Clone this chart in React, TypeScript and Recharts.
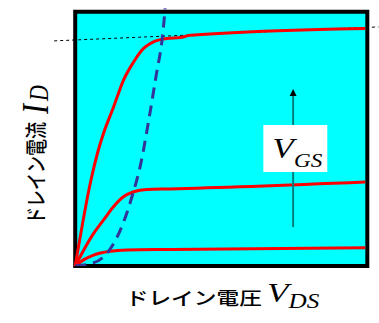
import { LineChart, Line, XAxis, YAxis, ReferenceArea, ReferenceLine } from "recharts"

// V_DS / I_D samples for three gate voltages (low -> high)
const vdsHigh = [0, 0.54, 0.79, 0.97, 1.31, 1.65, 2.0, 2.28, 2.68, 3.14, 3.6, 3.94, 9.93]
const idHigh = [0, 3.38, 4.55, 5.22, 6.24, 7.3, 8.02, 8.48, 8.81, 8.94, 8.98, 9.07, 9.34]

const vdsMid = [0, 0.63, 0.97, 1.31, 1.65, 2.0, 2.45, 3.25, 9.93]
const idMid = [0, 1.28, 1.81, 2.33, 2.72, 2.92, 3.01, 3.03, 3.3]

const vdsLow = [0, 0.3, 0.63, 1.2, 1.77, 3.25, 9.93]
const idLow = [0, 0.25, 0.43, 0.58, 0.63, 0.65, 0.72]

// pinch-off boundary (linear / saturation)
const vdsSat = [0, 0.62, 1.1, 1.54, 1.95, 2.25, 2.52, 2.78, 2.98, 3.08]
const idSat = [0, 0.12, 0.52, 1.4, 2.75, 4.05, 5.75, 7.55, 8.95, 10.13]

// channel-length modulation tangent
const vdsTangent = [-0.72, 10.38]
const idTangent = [8.85, 9.4]

// V_GS arrow and its label box
const arrowV = 7.46
const arrowI = [1.53, 6.96]
const boxV = [6.44, 8.63]
const boxI = [3.7, 5.54]

const toPoints = (v: number[], i: number[]) => v.map((x, k) => ({ v: x, i: i[k] }))

const JP_FONT = "'Noto Sans CJK JP', 'Noto Sans', sans-serif"
const SERIF = "'Liberation Serif', 'Times New Roman', serif"
const STRETCH = 1.26

const ArrowShape = (props: any) => {
  const { x1, y1, y2 } = props
  const tip = Math.min(y1, y2)
  const base = Math.max(y1, y2)
  return (
    <g>
      <line x1={x1} y1={base} x2={x1} y2={tip + 6} stroke="#007f7f" strokeWidth={2} />
      <path d={`M${x1},${tip} L${x1 - 3.5},${tip + 7} L${x1 + 3.5},${tip + 7} Z`} fill="#000" />
    </g>
  )
}

const renderGsLabel = (props: any) => {
  const { x, y, width, height } = props.viewBox
  const cx = x + width / 2 + 2
  const cy = y + height / 2 + 9.5
  return (
    <text transform={`translate(${cx},${cy}) scale(1.22,1)`} textAnchor="middle" fontFamily={SERIF} fontStyle="italic" fill="#000">
      <tspan fontSize={29}>V</tspan>
      <tspan fontSize={19} dy={9}>GS</tspan>
    </text>
  )
}

const renderXLabel = (props: any) => {
  const { x, y, width } = props.viewBox
  const cx = x + width / 2 + 10
  const cy = y + 39
  return (
    <text transform={`translate(${cx},${cy}) scale(${STRETCH},1)`} textAnchor="middle" fill="#000">
      <tspan fontFamily={JP_FONT} fontWeight={500} fontSize={18}>ドレイン電圧 </tspan>
      <tspan fontFamily={SERIF} fontStyle="italic" fontSize={28} dy={-3}>V</tspan>
      <tspan fontFamily={SERIF} fontStyle="italic" fontSize={20} dy={6}>DS</tspan>
    </text>
  )
}

// rotated label, anchored at its lower end
const renderYLabel = (props: any) => {
  const { y, height } = props.viewBox
  const bottom = y + height - 42
  return (
    <text transform={`translate(44,${bottom}) scale(${STRETCH},1) rotate(-90)`} textAnchor="start" fill="#000">
      <tspan fontFamily={JP_FONT} fontWeight={500} fontSize={17}>ドレイン電流</tspan>
      <tspan fontFamily={SERIF} fontStyle="italic" fontSize={30} dx={8} dy={3}>I</tspan>
      <tspan fontFamily={SERIF} fontStyle="italic" fontSize={22} dx={3} dy={0}>D</tspan>
    </text>
  )
}

export default function App() {
  return (
    <div style={{ position: "absolute", left: 0, top: 0, width: 379, height: 323, background: "#fff" }}>
      <LineChart width={379} height={323} margin={{ top: 4, right: 0, bottom: 0, left: 0 }}>
        <XAxis
          dataKey="v"
          type="number"
          domain={[-1, 10.4]}
          allowDataOverflow
          height={57}
          tick={false}
          tickLine={false}
          axisLine={false}
          label={{ content: renderXLabel }}
        />
        <YAxis
          type="number"
          domain={[0, 10.3]}
          allowDataOverflow
          width={46}
          tick={false}
          tickLine={false}
          axisLine={false}
          label={{ content: renderYLabel }}
        />
        <ReferenceArea x1={0} x2={10} y1={0} y2={10} fill="#00ffff" fillOpacity={1} stroke="#000" strokeWidth={4} zIndex={50} />
        <Line data={toPoints(vdsTangent, idTangent)} dataKey="i" type="linear" stroke="#000" strokeWidth={1} strokeDasharray="3 3" dot={false} isAnimationActive={false} />
        <Line data={toPoints(vdsLow, idLow)} dataKey="i" type="monotone" stroke="#ff0000" strokeWidth={3} dot={false} isAnimationActive={false} />
        <Line data={toPoints(vdsMid, idMid)} dataKey="i" type="monotone" stroke="#ff0000" strokeWidth={3} dot={false} isAnimationActive={false} />
        <Line data={toPoints(vdsHigh, idHigh)} dataKey="i" type="monotone" stroke="#ff0000" strokeWidth={3} dot={false} isAnimationActive={false} />
        <Line data={toPoints(vdsSat, idSat)} dataKey="i" type="monotone" stroke="#333399" strokeWidth={3} strokeDasharray="11 7" dot={false} isAnimationActive={false} />
        <ReferenceLine
          segment={[{ x: arrowV, y: arrowI[0] }, { x: arrowV, y: arrowI[1] }]}
          shape={ArrowShape}
          zIndex={450}
        />
        <ReferenceArea x1={boxV[0]} x2={boxV[1]} y1={boxI[0]} y2={boxI[1]} fill="#fff" fillOpacity={1} stroke="none" zIndex={460} label={{ content: renderGsLabel }} />
      </LineChart>
    </div>
  )
}
